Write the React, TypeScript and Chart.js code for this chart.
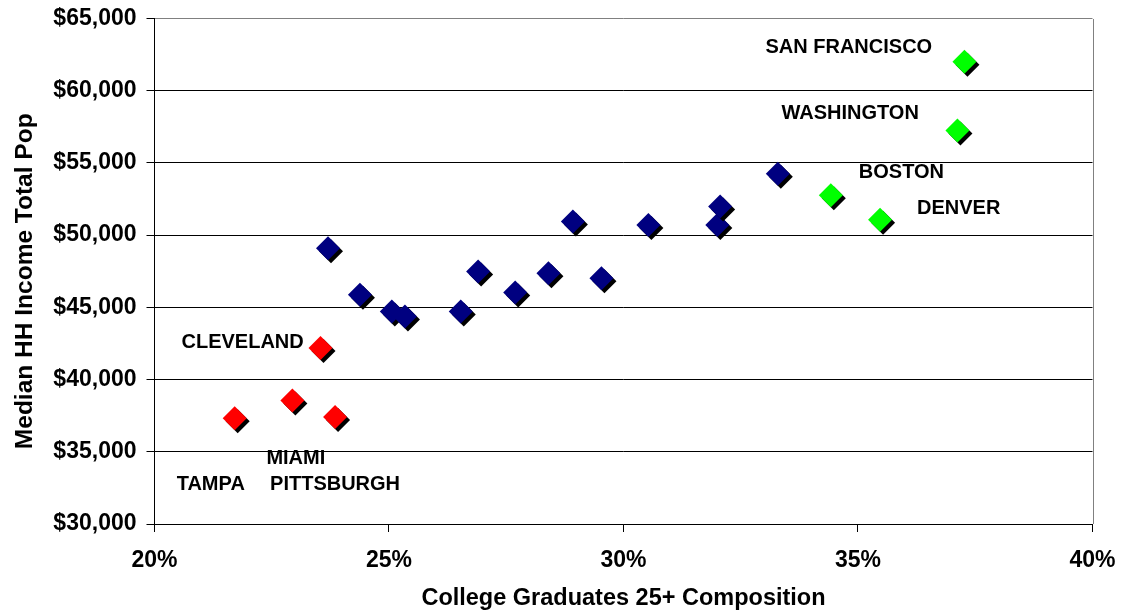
import React, { useEffect, useRef } from "react";
import { Chart, registerables } from "chart.js";

Chart.register(...registerables);

// ---- data ----
const blueX = [0.2370, 0.2438, 0.2506, 0.2534, 0.2653, 0.2690, 0.2769, 0.2840, 0.2892, 0.2953, 0.3053, 0.3200, 0.3206, 0.3329];
const blueY = [49100, 45870, 44710, 44360, 44710, 47480, 46030, 47370, 50940, 47020, 50710, 50710, 51980, 54250];

const redNames = ["TAMPA", "MIAMI", "PITTSBURGH", "CLEVELAND"];
const redX = [0.2171, 0.2294, 0.2385, 0.2354];
const redY = [37330, 38550, 37400, 42180];

const greenNames = ["BOSTON", "DENVER", "WASHINGTON", "SAN FRANCISCO"];
const greenX = [0.3442, 0.3547, 0.3712, 0.3727];
const greenY = [52770, 51060, 57240, 62000];

const xTickValues = [0.2, 0.25, 0.3, 0.35, 0.4];
const yTickValues = [30000, 35000, 40000, 45000, 50000, 55000, 60000, 65000];

const xTitle = "College Graduates 25+ Composition";
const yTitle = "Median HH Income Total Pop";

// ---- label placement (pixel offsets from the marker: left edge of text, vertical middle) ----
const labelOffsets: Record<string, [number, number]> = {
  TAMPA: [-58, 66],
  MIAMI: [-26, 58],
  PITTSBURGH: [-65, 67],
  CLEVELAND: [-139, -6],
  BOSTON: [28, -23],
  DENVER: [37, -11],
  WASHINGTON: [-176, -17],
  "SAN FRANCISCO": [-199, -14],
};

const FONT = "'Liberation Sans', Arial, sans-serif";

const toPoints = (xs: number[], ys: number[]) => xs.map((x, i) => ({ x, y: ys[i] }));

export default function App() {
  const ref = useRef<HTMLCanvasElement | null>(null);

  useEffect(() => {
    if (!ref.current) return;
    Chart.defaults.font.family = FONT;
    Chart.defaults.color = "#000";

    const shadowPlugin = {
      id: "markerShadow",
      beforeDatasetDraw(chart: any) {
        const ctx = chart.ctx;
        ctx.save();
        ctx.shadowColor = "#000";
        ctx.shadowOffsetX = 3;
        ctx.shadowOffsetY = 3;
        ctx.shadowBlur = 0;
      },
      afterDatasetDraw(chart: any) {
        chart.ctx.restore();
      },
    };

    const decorPlugin = {
      id: "decor",
      beforeDatasetsDraw(chart: any) {
        const { ctx, chartArea } = chart;
        ctx.save();
        ctx.strokeStyle = "#808080";
        ctx.lineWidth = 1;
        ctx.beginPath();
        const rx = Math.round(chartArea.right) + 0.5;
        ctx.moveTo(rx, Math.round(chartArea.top));
        ctx.lineTo(rx, Math.round(chartArea.bottom));
        ctx.stroke();
        ctx.restore();
      },
      afterDatasetsDraw(chart: any) {
        const { ctx, chartArea } = chart;
        ctx.save();
        ctx.fillStyle = "#000";
        ctx.font = `bold 20px ${FONT}`;
        ctx.textAlign = "left";
        ctx.textBaseline = "middle";
        chart.data.datasets.forEach((ds: any, di: number) => {
          const names: string[] | undefined = ds.names;
          if (!names) return;
          const meta = chart.getDatasetMeta(di);
          meta.data.forEach((el: any, i: number) => {
            const name = names[i];
            const off = labelOffsets[name];
            if (!off) return;
            ctx.fillText(name, el.x + off[0], el.y + off[1]);
          });
        });
        // axis titles
        ctx.font = `bold 23.5px ${FONT}`;
        ctx.textAlign = "center";
        ctx.textBaseline = "middle";
        ctx.fillText(xTitle, (chartArea.left + chartArea.right) / 2, chartArea.bottom + 75);
        ctx.save();
        ctx.font = `bold 24.5px ${FONT}`;
        ctx.translate(25.5, (chartArea.top + chartArea.bottom) / 2 + 10);
        ctx.rotate(-Math.PI / 2);
        ctx.fillText(yTitle, 0, 0);
        ctx.restore();
        ctx.restore();
      },
    };

    const common = {
      pointStyle: "rectRot",
      pointRadius: 12,
      pointHoverRadius: 12,
      borderWidth: 0,
      showLine: false,
      clip: false,
    };

    const chart = new Chart(ref.current, {
      type: "scatter",
      data: {
        datasets: [
          { ...common, label: "Other", data: toPoints(blueX, blueY), backgroundColor: "#000080", borderColor: "#000080" } as any,
          { ...common, label: "Low", names: redNames, data: toPoints(redX, redY), backgroundColor: "#FF0000", borderColor: "#FF0000" } as any,
          { ...common, label: "High", names: greenNames, data: toPoints(greenX, greenY), backgroundColor: "#00FF00", borderColor: "#00FF00" } as any,
        ],
      },
      options: {
        responsive: false,
        animation: false,
        devicePixelRatio: 1,
        events: [],
        layout: { padding: { left: 0, top: 18.5, right: 39.5, bottom: 0 } },
        plugins: {
          legend: { display: false },
          tooltip: { enabled: false },
          title: { display: false },
        },
        scales: {
          x: {
            type: "linear",
            min: 0.2,
            max: 0.4,
            afterBuildTicks: (scale: any) => {
              scale.ticks = xTickValues.map((v) => ({ value: v }));
            },
            afterFit: (scale: any) => {
              scale.height = 87;
              scale.paddingLeft = 0;
              scale.paddingRight = 0;
            },
            ticks: {
              callback: (v: any) => `${Math.round(Number(v) * 100)}%`,
              font: { size: 23, weight: "bold" },
              color: "#000",
              padding: 14.5,
              maxRotation: 0,
              autoSkip: false,
            },
            grid: {
              drawOnChartArea: false,
              drawTicks: true,
              tickLength: 8,
              tickColor: "#000",
            },
            border: { display: true, color: "#000", width: 1 },
          },
          y: {
            type: "linear",
            min: 30000,
            max: 65000,
            afterBuildTicks: (scale: any) => {
              scale.ticks = yTickValues.map((v) => ({ value: v }));
            },
            afterFit: (scale: any) => {
              scale.width = 154.5;
              scale.paddingTop = 0;
              scale.paddingBottom = 0;
            },
            ticks: {
              callback: (v: any) => "$" + Number(v).toLocaleString("en-US"),
              font: { size: 23, weight: "bold" },
              color: "#000",
              padding: 10,
              autoSkip: false,
            },
            grid: {
              drawOnChartArea: true,
              drawTicks: true,
              tickLength: 8,
              tickColor: "#000",
              color: (ctx: any) => (ctx.tick && ctx.tick.value === 65000 ? "#808080" : "#000"),
              lineWidth: 1,
            },
            border: { display: true, color: "#000", width: 1 },
          },
        },
      } as any,
      plugins: [shadowPlugin, decorPlugin],
    });

    return () => chart.destroy();
  }, []);

  return (
    <div style={{ position: "absolute", left: 0, top: 0, width: 1132, height: 611, background: "#fff" }}>
      <canvas ref={ref} width={1132} height={611} style={{ display: "block" }} />
    </div>
  );
}
